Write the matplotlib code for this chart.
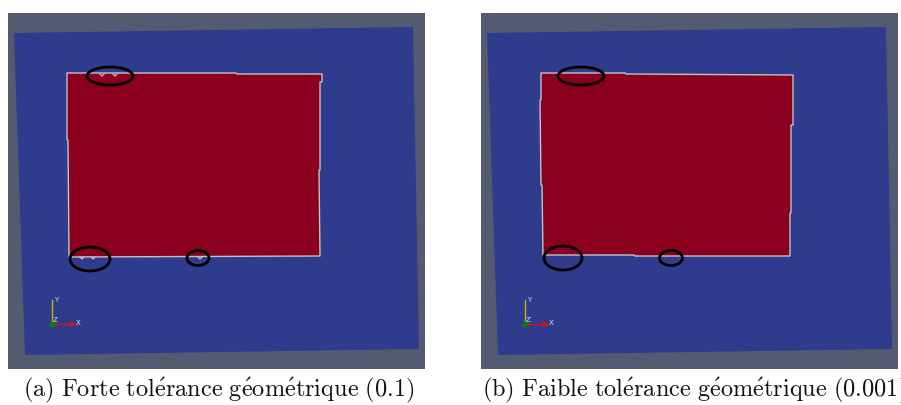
import matplotlib
matplotlib.use("Agg")
import matplotlib.pyplot as plt
from matplotlib.patches import Polygon, Ellipse, Rectangle

plt.rcParams["mathtext.fontset"] = "cm"

W, H = 901, 405

# Panel geometry (pixel coordinates, y downward)
panel_frames = [(8, 13, 417, 356), (481, 13, 417, 356)]
panel_offsets = [0, 473]

# Blue domain (slightly tilted quad)
domain_quad = [(14, 33), (413, 27), (419, 349), (25, 355)]

# Red subdomain outlines
red_outline_a = [(67, 73), (236, 73), (237, 74), (322, 74), (322, 82), (320, 82),
                 (320, 170), (319, 170), (320, 256), (69, 257), (68, 140), (67, 140)]
red_outline_b = [(541, 73), (625, 73), (626, 74), (793, 75), (793, 125), (791, 125),
                 (791, 213), (790, 213), (790, 256), (635, 256), (634, 255), (543, 255),
                 (542, 185), (541, 185), (540, 100), (541, 100)]

# Small artefacts along the interface in panel (a)
notches_a = [(102, 74), (115, 74), (82, 257), (93, 257), (200, 257)]

# Highlight ellipses: (cx, cy, width, height)
ellipses_a = [(110, 76, 46, 18), (90, 259, 40, 24), (198, 258, 22, 15)]
ellipses_b = [(581, 76, 46, 18), (563, 258, 38, 24), (671, 258, 23, 15)]

captions = [r"$\mathrm{(a)\ Forte\ tol\acute{e}rance\ g\acute{e}om\acute{e}trique\ (0.1)}$",
            r"$\mathrm{(b)\ Faible\ tol\acute{e}rance\ g\acute{e}om\acute{e}trique\ (0.001)}$"]
caption_x = [23, 482]

GRAY = "#545a6f"
BLUE = "#2f3b8d"
RED = "#8b001e"
EDGE = "#c4c2c8"

fig = plt.figure(figsize=(W / 100, H / 100), dpi=100)
ax = fig.add_axes([0, 0, 1, 1])
ax.set_xlim(0, W)
ax.set_ylim(H, 0)
ax.axis("off")

red_outlines = [red_outline_a, red_outline_b]
ellipse_sets = [ellipses_a, ellipses_b]

for i in range(2):
    fx, fy, fw, fh = panel_frames[i]
    dx = panel_offsets[i]
    ax.add_patch(Rectangle((fx, fy), fw, fh, facecolor=GRAY, edgecolor="none"))
    ax.add_patch(Polygon([(x + dx, y) for x, y in domain_quad], closed=True,
                         facecolor=BLUE, edgecolor="none"))
    ax.add_patch(Polygon(red_outlines[i], closed=True, facecolor=RED,
                         edgecolor=EDGE, linewidth=1.0, joinstyle="miter"))

    # orientation triad
    ox, oy = 52 + dx, 324
    ax.plot([ox, ox], [oy, oy - 24], color="#c8b400", lw=1.0)
    ax.plot([ox, ox + 22], [oy, oy], color="#e01010", lw=1.0)
    ax.plot([ox + 20], [oy], marker=">", ms=3, color="#e01010")
    ax.plot([ox], [oy], marker="o", ms=3.5, color="#0c7a10")
    ax.text(ox + 2, oy - 24, "Y", color="#dcdce6", fontsize=5, va="center", ha="left")
    ax.text(ox + 24, oy - 1, "X", color="#dcdce6", fontsize=5, va="center", ha="left")
    ax.text(ox + 1, oy - 4, "Z", color="#dcdce6", fontsize=5, va="center", ha="left")

    for cx, cy, ew, eh in ellipse_sets[i]:
        ax.add_patch(Ellipse((cx, cy), ew, eh, fill=False, edgecolor="black", lw=2.0))

    ax.text(caption_x[i], 390, captions[i], fontsize=17.5, ha="left", va="center",
            color="#111111", clip_on=False)

for x, y in notches_a:
    ax.plot([x - 2, x, x + 2], [y, y + 2, y], color=EDGE, lw=0.9)

fig.savefig("out.png", dpi=100, facecolor="white")
